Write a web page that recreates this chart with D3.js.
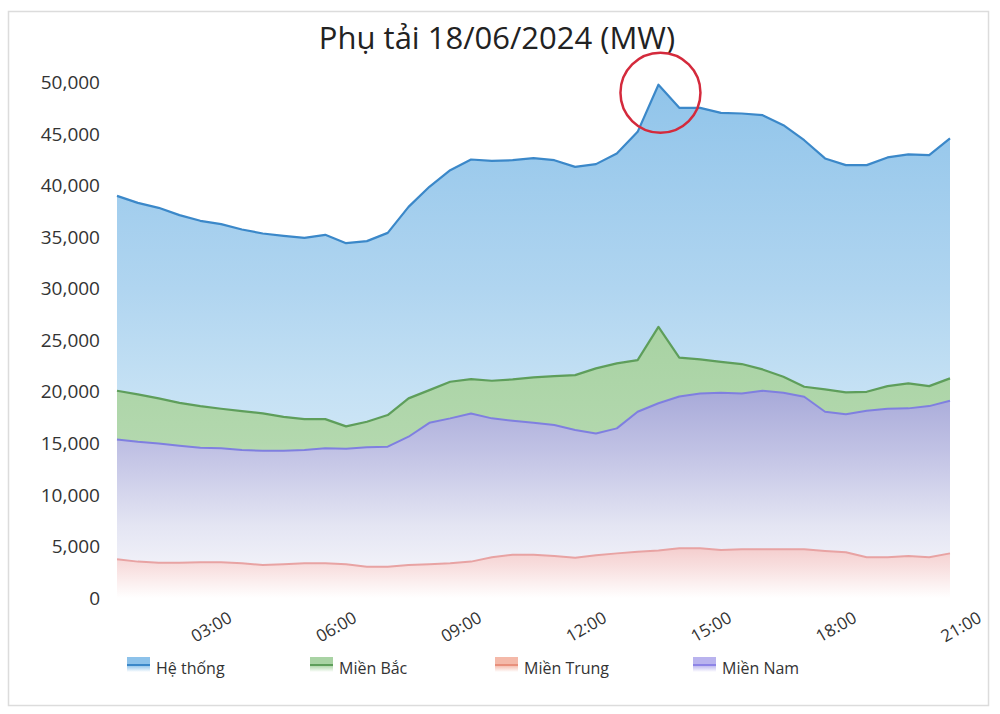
<!DOCTYPE html>
<html>
<head>
<meta charset="utf-8">
<script src="https://cdn.jsdelivr.net/npm/d3@7"></script>
<style>
  html, body { margin: 0; padding: 0; background: #fff; }
  svg { display: block; font-family: "Open Sans", "Noto Sans", sans-serif; }
</style>
</head>
<body>
<svg id="chart" width="1000" height="714"></svg>
<script>
// ---- data ----
const times = ["00:30","01:00","01:30","02:00","02:30","03:00","03:30","04:00","04:30","05:00",
  "05:30","06:00","06:30","07:00","07:30","08:00","08:30","09:00","09:30","10:00",
  "10:30","11:00","11:30","12:00","12:30","13:00","13:30","14:00","14:30","15:00",
  "15:30","16:00","16:30","17:00","17:30","18:00","18:30","19:00","19:30","20:00","20:30"];
const heThong = [39020,38340,37860,37150,36600,36280,35760,35370,35140,34950,
  35240,34430,34630,35430,37950,39900,41510,42550,42420,42480,
  42680,42480,41830,42100,43130,45230,49800,47560,47560,47070,
  47010,46850,45880,44420,42650,42000,42000,42750,43040,42970,44590];
const mienBac = [20110,19760,19370,18940,18620,18360,18140,17910,17580,17360,
  17360,16650,17100,17750,19370,20170,20980,21240,21080,21210,
  21410,21530,21630,22280,22760,23080,26310,23320,23150,22920,
  22700,22180,21470,20500,20240,19950,20010,20560,20820,20560,21310];
const mienTrung = [3750,3530,3430,3430,3460,3460,3370,3200,3270,3370,
  3370,3270,3040,3040,3200,3270,3370,3530,3950,4200,
  4200,4070,3910,4140,4330,4490,4620,4820,4820,4660,
  4720,4720,4720,4720,4560,4430,3950,3950,4070,3950,4330];
const mienNam = [15390,15160,15000,14770,14580,14520,14350,14290,14290,14350,
  14520,14480,14620,14680,15650,17000,17430,17910,17430,17200,
  17000,16780,16300,15970,16460,18070,18900,19550,19850,19910,
  19850,20110,19910,19530,18070,17820,18170,18360,18400,18620,19140];
const xTickLabels = ["03:00","06:00","09:00","12:00","15:00","18:00","21:00"];
const yTicks = [0,5000,10000,15000,20000,25000,30000,35000,40000,45000,50000];
const seriesNames = ["Hệ thống","Miền Bắc","Miền Trung","Miền Nam"];
const title = "Phụ tải 18/06/2024 (MW)";

// ---- helpers ----
const toMin = s => { const [h, m] = s.split(":").map(Number); return h * 60 + m; };

const svg = d3.select("#chart");
const plotTop = 82.7, plotBottom = 598;
const x = d3.scaleLinear().domain([toMin(times[0]), toMin(times[times.length - 1])]).range([117, 950]);
const y = d3.scaleLinear().domain([0, 50000]).range([plotBottom, plotTop]);

// card frame
svg.append("rect").attr("x", 8.5).attr("y", 11.5).attr("width", 980).attr("height", 694)
  .attr("fill", "#fff").attr("stroke", "#dcdcdc").attr("stroke-width", 1.5);

// gradients
const defs = svg.append("defs");
function grad(id, stops, y1 = plotTop, y2 = plotBottom) {
  const g = defs.append("linearGradient").attr("id", id)
    .attr("gradientUnits", "userSpaceOnUse").attr("x1", 0).attr("x2", 0).attr("y1", y1).attr("y2", y2);
  stops.forEach(([o, c]) => g.append("stop").attr("offset", o).attr("stop-color", c));
}
grad("gBlue", [[0, "#90c4ea"], [0.4, "#b0d5f0"], [0.6, "#c5e1f4"], [0.85, "#dcedf9"], [1, "#f4f9fd"]]);
grad("gGreen", [[0, "#a3cf9d"], [0.5, "#a9d3a4"], [0.7, "#b3d8ae"], [1, "#f2f8f1"]]);
grad("gPurple", [[0, "#9c9ed6"], [0.6, "#a8aad9"], [0.72, "#c2c3e5"], [0.86, "#e4e5f3"], [1, "#fbfbfd"]]);
grad("gRed", [[0, "#f0b4b4"], [0.88, "#f2c3c3"], [0.94, "#f8dfdf"], [1, "#ffffff"]]);

// legend swatch colours
const swatchColors = [["#8dc2ea", "#3b88c9"], ["#a9d3a4", "#5e9e5b"], ["#f4b9a9", "#e8907c"], ["#b9b3ee", "#8d84e6"]];

const series = [
  { vals: heThong, fill: "url(#gBlue)", stroke: "#3b88c9", w: 2.2 },
  { vals: mienBac, fill: "url(#gGreen)", stroke: "#5e9e5b", w: 2.2 },
  { vals: mienNam, fill: "url(#gPurple)", stroke: "#7f7fe0", w: 2 },
  { vals: mienTrung, fill: "url(#gRed)", stroke: "#e8a3a3", w: 2 }
];

const plot = svg.append("g");
series.forEach(s => {
  const data = times.map((t, i) => ({ t: toMin(t), v: s.vals[i] }));
  const area = d3.area().x(d => x(d.t)).y0(y(0)).y1(d => y(d.v));
  const line = d3.line().x(d => x(d.t)).y(d => y(d.v));
  plot.append("path").datum(data).attr("d", area).attr("fill", s.fill);
  plot.append("path").datum(data).attr("d", line).attr("fill", "none")
    .attr("stroke", s.stroke).attr("stroke-width", s.w).attr("stroke-linejoin", "round");
});

// y axis
const yAxis = d3.axisLeft(y).tickValues(yTicks).tickFormat(d3.format(",")).tickSize(0).tickPadding(0);
const yg = svg.append("g").attr("transform", "translate(100,0)").call(yAxis);
yg.select(".domain").remove();
yg.selectAll("text").attr("font-size", 19).attr("fill", "#333").attr("font-family", "\"Open Sans\", sans-serif");

// x axis
const xAxis = d3.axisBottom(x).tickValues(xTickLabels.map(toMin)).tickFormat((d, i) => xTickLabels[i]).tickSize(0);
const xg = svg.append("g").call(xAxis);
xg.select(".domain").remove();
xg.selectAll(".tick").attr("transform", d => `translate(${x(d) + 9},616)`);
xg.selectAll("text").attr("font-size", 17).attr("fill", "#333")
  .attr("font-family", "\"Open Sans\", sans-serif")
  .attr("text-anchor", "end").attr("y", 0).attr("dy", "0.35em")
  .attr("transform", "rotate(-30)");

// title
svg.append("text").attr("x", 497).attr("y", 49).attr("text-anchor", "middle")
  .attr("font-size", 31).attr("fill", "#222").text(title);

// annotation circle around the peak
const peakIdx = d3.maxIndex(heThong);
svg.append("circle")
  .attr("cx", x(toMin(times[peakIdx])) + 2)
  .attr("cy", y(heThong[peakIdx]) + 8)
  .attr("r", 40)
  .attr("fill", "none").attr("stroke", "#d42a3c").attr("stroke-width", 2.5);

// legend
const legX = [127, 310, 495, 693];
const leg = svg.append("g");
seriesNames.forEach((name, k) => {
  const g = leg.append("g").attr("transform", `translate(${legX[k]},657)`);
  const gid = "lg" + k;
  const lg = defs.append("linearGradient").attr("id", gid).attr("x1", 0).attr("x2", 0).attr("y1", 0).attr("y2", 1);
  lg.append("stop").attr("offset", 0).attr("stop-color", swatchColors[k][0]);
  lg.append("stop").attr("offset", 0.55).attr("stop-color", swatchColors[k][0]);
  lg.append("stop").attr("offset", 1).attr("stop-color", "#ffffff");
  g.append("rect").attr("width", 23).attr("height", 15).attr("fill", `url(#${gid})`);
  g.append("line").attr("x1", 0).attr("x2", 23).attr("y1", 8).attr("y2", 8)
    .attr("stroke", swatchColors[k][1]).attr("stroke-width", 2);
  g.append("text").attr("x", 29).attr("y", 17).attr("font-size", 16).attr("fill", "#333")
    .text(name);
});
</script>
</body>
</html>
